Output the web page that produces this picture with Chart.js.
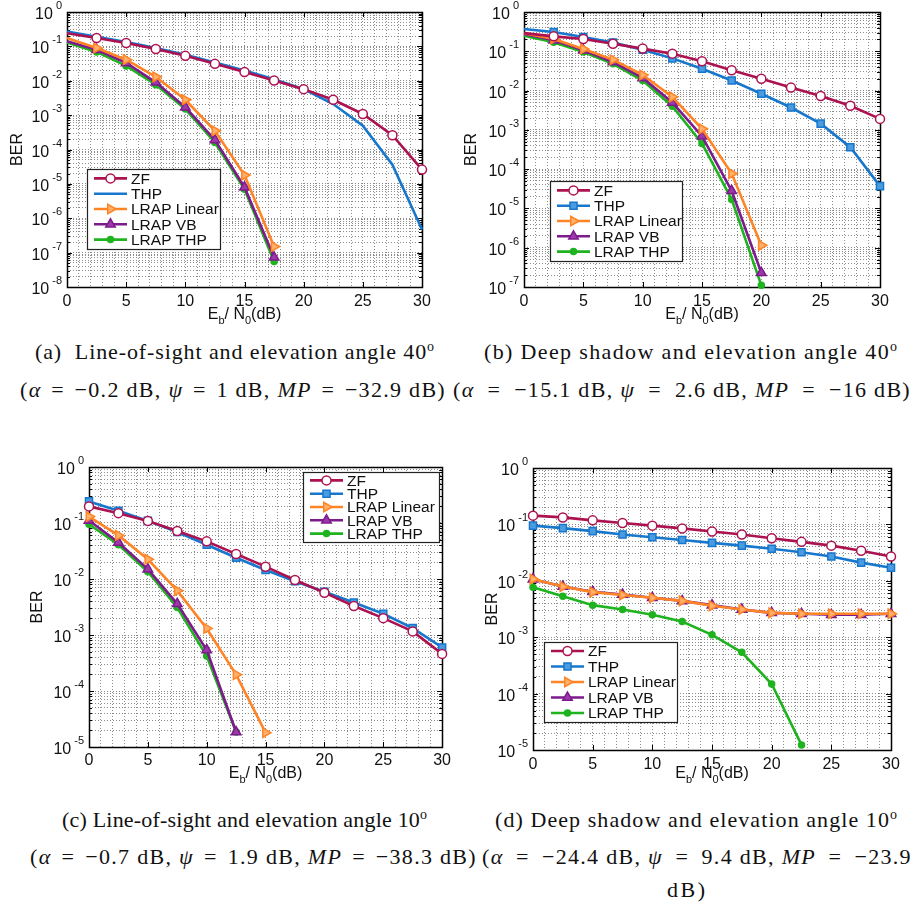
<!DOCTYPE html>
<html>
<head>
<meta charset="utf-8">
<script src="https://cdn.jsdelivr.net/npm/chart.js@4.4.1/dist/chart.umd.min.js"></script>
<style>
  body { margin: 0; background: #fff; width: 913px; height: 907px; position: relative; overflow: hidden; }
  .panel { position: absolute; }
  .cap { position: absolute; font-family: "Liberation Serif", "Times New Roman", serif; font-size: 22px;
         line-height: 24px; white-space: nowrap; color: #111; }
  .cap sup { font-size: 14px; vertical-align: 8px; line-height: 0; }
  .cap .r { padding: 0 5px; }
</style>
</head>
<body>
<div class="panel" style="left:0;top:0;width:455px;height:330px"><canvas id="chartA"></canvas></div>
<div class="panel" style="left:455px;top:0;width:458px;height:330px"><canvas id="chartB"></canvas></div>
<div class="panel" style="left:0;top:420px;width:455px;height:370px"><canvas id="chartC"></canvas></div>
<div class="panel" style="left:455px;top:420px;width:458px;height:370px"><canvas id="chartD"></canvas></div>

<div class="cap" data-w="399" style="left:35px;top:340px">(a)&nbsp; Line-of-sight and elevation angle 40<sup>o</sup></div>
<div class="cap m" data-w="426" style="left:20px;top:378px">(<i>α</i><span class="r">=</span>−0.2 dB, <i>ψ</i><span class="r">=</span>1 dB, <i>MP</i><span class="r">=</span>−32.9 dB)</div>
<div class="cap" data-w="413" style="left:484px;top:340px">(b) Deep shadow and elevation angle 40<sup>o</sup></div>
<div class="cap m" data-w="458" style="left:453px;top:378px">(<i>α</i><span class="r">=</span>−15.1 dB, <i>ψ</i><span class="r">=</span>2.6 dB, <i>MP</i><span class="r">=</span>−16 dB)</div>
<div class="cap" data-w="365" style="left:62px;top:808px">(c) Line-of-sight and elevation angle 10<sup>o</sup></div>
<div class="cap m" data-w="447" style="left:30px;top:845px">(<i>α</i><span class="r">=</span>−0.7 dB, <i>ψ</i><span class="r">=</span>1.9 dB, <i>MP</i><span class="r">=</span>−38.3 dB)</div>
<div class="cap" data-w="402" style="left:495px;top:808px">(d) Deep shadow and elevation angle 10<sup>o</sup></div>
<div class="cap m" data-w="430" style="left:482px;top:845px">(<i>α</i><span class="r">=</span>−24.4 dB, <i>ψ</i><span class="r">=</span>9.4 dB, <i>MP</i><span class="r">=</span>−23.9</div>
<div class="cap" data-w="38" style="left:667px;top:878px">dB)</div>

<script>
// Eb/N0 grid shared by all panels (dB)
const snr = [0, 2.5, 5, 7.5, 10, 12.5, 15, 17.5, 20, 22.5, 25, 27.5, 30];
const xTickLabels = [0, 5, 10, 15, 20, 25, 30];

// (a) line-of-sight, 40 deg
const zfA   = [0.24, 0.175, 0.125, 0.084, 0.053, 0.031, 0.018, 0.0102, 0.0057, 0.0028, 0.00108, 2.6e-4, 2.6e-5];
const thpA  = [0.27, 0.19, 0.134, 0.09, 0.057, 0.034, 0.02, 0.011, 0.0057, 0.0021, 4.9e-4, 3.6e-5, 4.7e-7];
const linA  = [0.175, 0.09, 0.041, 0.013, 0.0028, 3.5e-4, 1.8e-5, 1.5e-7];
const vbA   = [0.14, 0.08, 0.033, 0.009, 0.0017, 1.9e-4, 8e-6, 7.3e-8];
const lthpA = [0.13, 0.069, 0.027, 0.0077, 0.0015, 1.6e-4, 7e-6, 5.5e-8];
const expA  = [0, -1, -2, -3, -4, -5, -6, -7, -8];

// (b) deep shadow, 40 deg
const zfB   = [0.29, 0.24, 0.206, 0.155, 0.117, 0.087, 0.056, 0.033, 0.02, 0.0119, 0.0073, 0.0041, 0.0019];
const thpB  = [0.37, 0.31, 0.23, 0.166, 0.11, 0.066, 0.036, 0.018, 0.0083, 0.0037, 0.00144, 3.6e-4, 3.7e-5];
const linB  = [0.29, 0.206, 0.114, 0.061, 0.025, 0.0069, 0.00106, 7.7e-5, 1.15e-6];
const vbB   = [0.275, 0.19, 0.106, 0.053, 0.021, 0.005, 6.9e-4, 2.8e-5, 2.3e-7];
const lthpB = [0.25, 0.17, 0.096, 0.048, 0.018, 0.004, 4.5e-4, 1.7e-5, 1.1e-7];
const expB  = [0, -1, -2, -3, -4, -5, -6, -7];

// (c) line-of-sight, 10 deg
const zfC   = [0.198, 0.15, 0.109, 0.072, 0.047, 0.028, 0.0166, 0.0096, 0.0057, 0.0033, 0.002, 0.00116, 4.6e-4];
const thpC  = [0.243, 0.165, 0.109, 0.069, 0.041, 0.024, 0.0145, 0.0091, 0.0059, 0.0038, 0.0024, 0.00133, 6e-4];
const linC  = [0.13, 0.06, 0.0225, 0.0062, 0.00131, 1.96e-4, 1.8e-5];
const vbC   = [0.111, 0.045, 0.015, 0.0036, 5.4e-4, 1.85e-5];
const lthpC = [0.095, 0.041, 0.0135, 0.0031, 4.2e-4, 1.85e-5];
const expC  = [0, -1, -2, -3, -4, -5];

// (d) deep shadow, 10 deg
const zfD   = [0.143, 0.133, 0.118, 0.106, 0.095, 0.085, 0.075, 0.066, 0.057, 0.049, 0.042, 0.034, 0.027];
const thpD  = [0.095, 0.086, 0.076, 0.066, 0.059, 0.053, 0.047, 0.042, 0.037, 0.032, 0.027, 0.021, 0.017];
const linD  = [0.0107, 0.0079, 0.0063, 0.0056, 0.005, 0.0044, 0.0036, 0.0031, 0.0027, 0.0026, 0.0026, 0.0026, 0.0026];
const vbD   = [0.0107, 0.0079, 0.0064, 0.0057, 0.005, 0.0044, 0.0037, 0.0031, 0.0027, 0.0026, 0.0025, 0.0025, 0.0026];
const lthpD = [0.0077, 0.0053, 0.0037, 0.0031, 0.0025, 0.0019, 0.0011, 5.4e-4, 1.48e-4, 1.23e-5];
const expD  = [0, -1, -2, -3, -4, -5];

const FONT = '"Liberation Sans", Arial, sans-serif';
const GRID = "#8c8c8c";

const styles = {
  "ZF":          { color: "#ad1250", fill: "#ffffff", point: "circle",   r: 4.5, rot: 0 },
  "THP":         { color: "#1677cc", fill: "#4a9be0", point: "rect",     r: 5,   rot: 0 },
  "LRAP Linear": { color: "#ff8426", fill: "#ffb06a", point: "triangle", r: 5.5, rot: 90 },
  "LRAP VB":     { color: "#7d1a8c", fill: "#9b3aa8", point: "triangle", r: 5.5, rot: 0 },
  "LRAP THP":    { color: "#1fb31f", fill: "#1fb31f", point: "circle",   r: 3,   rot: 0 }
};

const series = (label, ys, opts = {}) => {
  const s = styles[label];
  const r = opts.noMarker ? 0 : s.r;
  return {
    label,
    data: ys.map((y, i) => ({ x: snr[i], y })),
    borderColor: s.color,
    backgroundColor: s.color,
    borderWidth: 2.6,
    pointStyle: s.point,
    pointRotation: s.rot,
    pointBackgroundColor: s.fill,
    pointBorderColor: s.color,
    pointBorderWidth: 1.5,
    pointRadius: (ctx) => (opts.hideEdge && ctx.raw && ctx.raw.x === 0) ? 0 : r,
    legendRadius: r,
    tension: 0,
    clip: false
  };
};

const drawPow = (ctx, x, y, e) => {
  const base = "10";
  const ex = String(e);
  ctx.font = `16px ${FONT}`;
  const wb = ctx.measureText(base).width;
  ctx.font = `11px ${FONT}`;
  const we = ctx.measureText(ex).width;
  const x0 = x - we - wb - 3;
  ctx.textAlign = "left";
  ctx.textBaseline = "alphabetic";
  ctx.font = `16px ${FONT}`;
  ctx.fillText(base, x0, y + 7);
  ctx.font = `11px ${FONT}`;
  ctx.fillText(ex, x0 + wb + 3, y - 3);
};

const decor = {
  id: "decor",
  beforeDatasetsDraw(chart, args, o) {
    const { ctx, chartArea: a, scales } = chart;
    ctx.save();
    ctx.strokeStyle = "#000";
    ctx.lineWidth = 1;
    // small inward ticks, matlab style
    ctx.beginPath();
    xTickLabels.forEach((v) => {
      const x = Math.round(scales.x.getPixelForValue(v)) + 0.5;
      ctx.moveTo(x, a.bottom); ctx.lineTo(x, a.bottom - 5);
      ctx.moveTo(x, a.top); ctx.lineTo(x, a.top + 5);
    });
    scales.y.ticks.forEach((t) => {
      const y = Math.round(scales.y.getPixelForValue(t.value)) + 0.5;
      const len = t.major ? 5 : 3;
      ctx.moveTo(a.left, y); ctx.lineTo(a.left + len, y);
      ctx.moveTo(a.right, y); ctx.lineTo(a.right - len, y);
    });
    ctx.stroke();
    ctx.lineWidth = 1.5;
    ctx.strokeRect(Math.round(a.left) + 0.5, Math.round(a.top) + 0.5,
      Math.round(a.right - a.left), Math.round(a.bottom - a.top));
    ctx.restore();
  },
  afterDraw(chart, args, o) {
    const { ctx, chartArea: a, scales } = chart;
    ctx.save();
    ctx.fillStyle = "#111";
    // y tick labels 10^n
    o.exps.forEach((e) => {
      const y = scales.y.getPixelForValue(Math.pow(10, e));
      drawPow(ctx, a.left - 5, y, e);
    });
    // y title
    ctx.save();
    ctx.translate(a.left - o.berDx, (a.top + a.bottom) / 2);
    ctx.rotate(-Math.PI / 2);
    ctx.font = `16px ${FONT}`;
    ctx.textAlign = "center";
    ctx.textBaseline = "middle";
    ctx.fillText("BER", 0, 0);
    ctx.restore();
    // x title: E_b/ N_0(dB)
    const parts = [["E", 16, 0], ["b", 11, 5], ["/ N", 16, 0], ["0", 11, 5], ["(dB)", 16, 0]];
    let w = 0;
    parts.forEach((p) => { ctx.font = `${p[1]}px ${FONT}`; p.push(ctx.measureText(p[0]).width); w += p[3]; });
    let x = (a.left + a.right) / 2 - w / 2;
    const by = a.bottom + o.xTitleDy;
    ctx.textAlign = "left";
    ctx.textBaseline = "alphabetic";
    parts.forEach((p) => { ctx.font = `${p[1]}px ${FONT}`; ctx.fillText(p[0], x, by + p[2]); x += p[3]; });
    // legend box
    const L = o.legend;
    const lx = a.left + L.dx, ly = a.top + L.dy;
    ctx.fillStyle = "#fff";
    ctx.fillRect(lx, ly, L.w, L.h);
    ctx.strokeStyle = "#222";
    ctx.lineWidth = 1.2;
    ctx.strokeRect(Math.round(lx) + 0.5, Math.round(ly) + 0.5, L.w, L.h);
    chart.data.datasets.forEach((ds, i) => {
      const cy = ly + L.h / 2 + (i - 2) * L.row;
      ctx.strokeStyle = ds.borderColor;
      ctx.lineWidth = 2.6;
      ctx.beginPath();
      ctx.moveTo(lx + 7, cy); ctx.lineTo(lx + 40, cy);
      ctx.stroke();
      if (ds.legendRadius > 0) {
        ctx.fillStyle = ds.pointBackgroundColor;
        ctx.strokeStyle = ds.pointBorderColor;
        ctx.lineWidth = 1.5;
        Chart.helpers.drawPoint(ctx, { pointStyle: ds.pointStyle, radius: ds.legendRadius,
          rotation: ds.pointRotation, borderWidth: 1.5 }, lx + 23.5, cy);
      }
      ctx.fillStyle = "#111";
      ctx.font = `15.5px ${FONT}`;
      ctx.textBaseline = "middle";
      ctx.fillText(ds.label, lx + 44, cy + 1);
    });
    ctx.restore();
  }
};

const makeChart = (id, datasets, cfg) => {
  const minY = Math.pow(10, cfg.exps[cfg.exps.length - 1]);
  const yTicks = [];
  cfg.exps.slice().reverse().forEach((e, k) => {
    for (let m = 1; m <= 9; m++) {
      if (k === cfg.exps.length - 1 && m > 1) break;
      yTicks.push({ value: m * Math.pow(10, e), major: m === 1 });
    }
  });
  return new Chart(document.getElementById(id), {
    type: "line",
    data: { datasets },
    plugins: [decor],
    options: {
      responsive: true,
      maintainAspectRatio: false,
      animation: false,
      events: [],
      layout: { padding: { top: cfg.padTop, right: cfg.padRight, left: 0, bottom: 0 } },
      plugins: {
        legend: { display: false },
        tooltip: { enabled: false },
        decor: { exps: cfg.exps, legend: cfg.legend, berDx: cfg.berDx, xTitleDy: cfg.xTitleDy }
      },
      scales: {
        x: {
          type: "linear",
          min: 0,
          max: 30,
          afterFit: (s) => { s.height = cfg.xh; },
          ticks: {
            stepSize: 1,
            autoSkip: false,
            maxRotation: 0,
            padding: cfg.xPad,
            color: "#111",
            font: { family: FONT, size: 16 },
            callback: (v) => (xTickLabels.includes(v) ? String(v) : "")
          },
          grid: { color: GRID, lineWidth: 1, drawTicks: false },
          border: { display: false, dash: [1, 2] }
        },
        y: {
          type: "logarithmic",
          min: minY,
          max: 1,
          afterFit: (s) => { s.width = cfg.yw; },
          afterBuildTicks: (s) => { s.ticks = yTicks.map((t) => ({ ...t })); },
          ticks: { autoSkip: false, callback: () => "", padding: 0 },
          grid: { color: GRID, lineWidth: 1, drawTicks: false },
          border: { display: false, dash: [1, 2] }
        }
      }
    }
  });
};

makeChart("chartA", [
  series("ZF", zfA, { hideEdge: true }),
  series("THP", thpA, { noMarker: true }),
  series("LRAP Linear", linA, { hideEdge: true }),
  series("LRAP VB", vbA, { hideEdge: true }),
  series("LRAP THP", lthpA, { hideEdge: true })
], { exps: expA, padTop: 12, padRight: 33, yw: 67, xh: 43, xPad: 5, berDx: 49, xTitleDy: 32,
     legend: { dx: 20, dy: 157, w: 133, h: 80, row: 15.3 } });

makeChart("chartB", [
  series("ZF", zfB, { hideEdge: true }),
  series("THP", thpB, { hideEdge: true }),
  series("LRAP Linear", linB, { hideEdge: true }),
  series("LRAP VB", vbB, { hideEdge: true }),
  series("LRAP THP", lthpB, { hideEdge: true })
], { exps: expB, padTop: 12, padRight: 33, yw: 69, xh: 43, xPad: 5, berDx: 52, xTitleDy: 32,
     legend: { dx: 26, dy: 169, w: 132, h: 80, row: 15.3 } });

makeChart("chartC", [
  series("ZF", zfC),
  series("THP", thpC),
  series("LRAP Linear", linC),
  series("LRAP VB", vbC),
  series("LRAP THP", lthpC)
], { exps: expC, padTop: 47, padRight: 10, yw: 89, xh: 43, xPad: 4, berDx: 51, xTitleDy: 31,
     legend: { dx: 214, dy: 5, w: 136, h: 70, row: 13.3 } });

makeChart("chartD", [
  series("ZF", zfD),
  series("THP", thpD),
  series("LRAP Linear", linD),
  series("LRAP VB", vbD),
  series("LRAP THP", lthpD)
], { exps: expD, padTop: 48, padRight: 22, yw: 78, xh: 40, xPad: 5, berDx: 40, xTitleDy: 28,
     legend: { dx: 11, dy: 174, w: 133, h: 80, row: 15.5 } });

// fit the serif captions to the widths of the typeset originals:
// plain lines get letter spacing, math lines also get more room round "="
document.querySelectorAll(".cap").forEach((el) => {
  const target = Number(el.dataset.w);
  const n = el.textContent.length;
  if (el.classList.contains("m")) {
    el.style.letterSpacing = "1.3px";
    const w = el.getBoundingClientRect().width;
    const rels = el.querySelectorAll(".r");
    if (target > w && rels.length) {
      const pad = 5 + (target - w) / (2 * rels.length);
      rels.forEach((r) => { r.style.padding = `0 ${pad.toFixed(2)}px`; });
    }
  } else {
    const w = el.getBoundingClientRect().width;
    if (n > 1 && target > w) el.style.letterSpacing = ((target - w) / (n - 1)).toFixed(2) + "px";
  }
});
</script>
</body>
</html>
